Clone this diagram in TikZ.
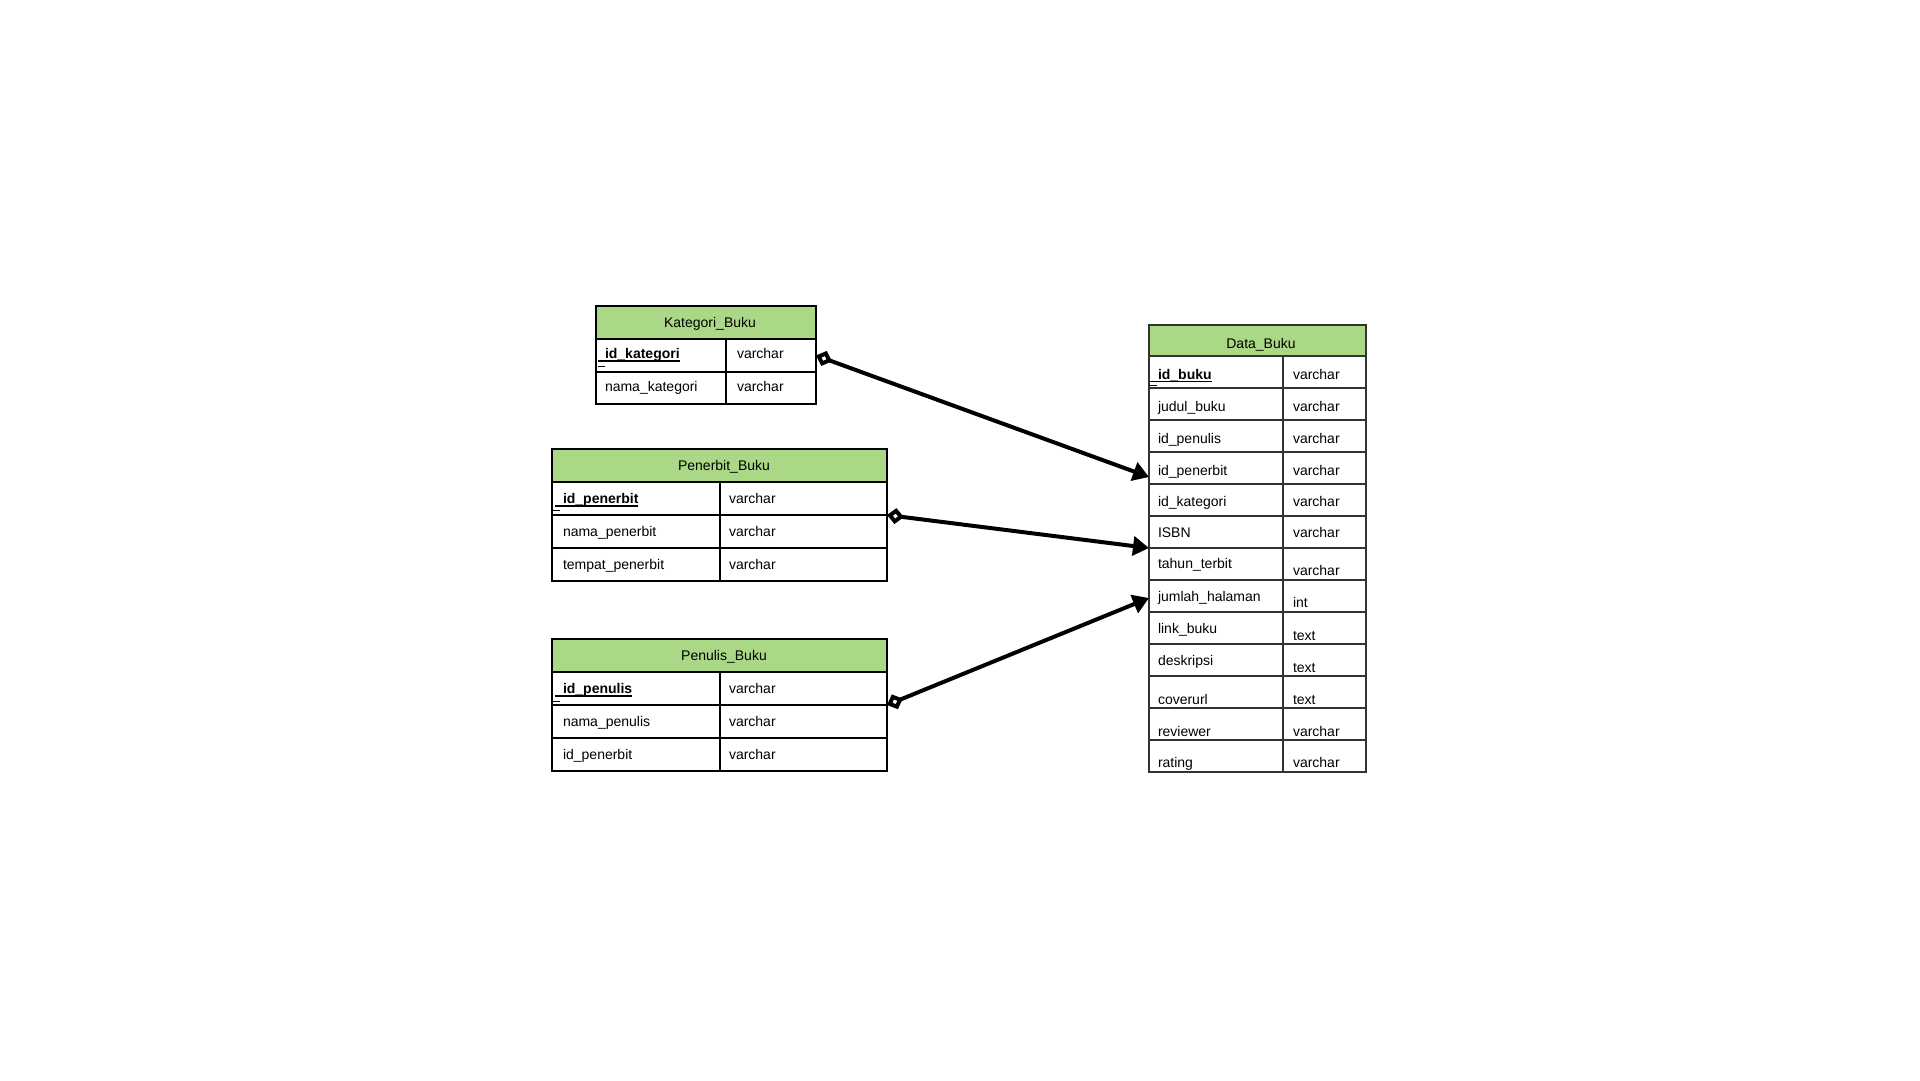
\documentclass[tikz,border=0pt]{standalone}
\usepackage{fontspec}
\setmainfont{Liberation Sans}
\usetikzlibrary{arrows.meta}
\definecolor{hdrgreen}{RGB}{170,216,134}
\begin{document}
\begin{tikzpicture}[x=1bp,y=-1bp,
  every node/.style={inner sep=0pt, outer sep=0pt},
  cellk/.style 2 args={draw=black, line width=2bp, minimum width=#1, minimum height=#2, anchor=north west},
  celld/.style 2 args={draw=black!80, line width=1.3bp, minimum width=#1, minimum height=#2, anchor=north west},
  lt/.style={anchor=base west, font=\fontsize{14bp}{17bp}\selectfont},
  kt/.style={anchor=base west, font=\fontsize{14bp}{17bp}\selectfont\bfseries},
  ht/.style={anchor=base, font=\fontsize{14bp}{17bp}\selectfont},
  ul/.style={line width=1.4bp},
  dsh/.style={line width=1bp},
  rel/.style={line width=4bp, {Diamond[fill=white,length=17bp,width=16bp]}-{Triangle[length=16bp,width=19bp]}}
]
\fill[white] (0,0) rectangle (1920,1080);
\useasboundingbox (0,0) rectangle (1920,1080);

% ---------- Kategori_Buku ----------
\node[cellk={220bp}{33bp}, fill=hdrgreen] (kh) at (596,306) {};
\node[ht] (kht) at (710,327) {Kategori\_Buku};
\node[cellk={130bp}{33bp}] (k1l) at (596,339) {};
\node[cellk={90bp}{33bp}] (k1r) at (726,339) {};
\node[cellk={130bp}{32bp}] (k2l) at (596,372) {};
\node[cellk={90bp}{32bp}] (k2r) at (726,372) {};
\node[kt] (k1t) at (605,358.5) {id\_kategori};
\draw[ul] ([xshift=-7bp,yshift=-2.5bp]k1t.base west) -- ([yshift=-2.5bp]k1t.base east);
\draw[dsh] (598,366) -- (605,366);
\node[lt] (k1y) at (737,358.5) {varchar};
\node[lt] (k2t) at (605,391.5) {nama\_kategori};
\node[lt] (k2y) at (737,391.5) {varchar};

% ---------- Penerbit_Buku ----------
\node[cellk={335bp}{33bp}, fill=hdrgreen] (ph) at (552,449) {};
\node[ht] (pht) at (724,470.5) {Penerbit\_Buku};
\node[cellk={168bp}{33bp}] (p1l) at (552,482) {};
\node[cellk={167bp}{33bp}] (p1r) at (720,482) {};
\node[cellk={168bp}{33bp}] (p2l) at (552,515) {};
\node[cellk={167bp}{33bp}] (p2r) at (720,515) {};
\node[cellk={168bp}{33bp}] (p3l) at (552,548) {};
\node[cellk={167bp}{33bp}] (p3r) at (720,548) {};
\node[kt] (p1t) at (563,503.5) {id\_penerbit};
\draw[ul] ([xshift=-8bp,yshift=-2.5bp]p1t.base west) -- ([yshift=-2.5bp]p1t.base east);
\draw[dsh] (553,510) -- (560,510);
\node[lt] (p1y) at (729,503.5) {varchar};
\node[lt] (p2t) at (563,536.5) {nama\_penerbit};
\node[lt] (p2y) at (729,536.5) {varchar};
\node[lt] (p3t) at (563,569.5) {tempat\_penerbit};
\node[lt] (p3y) at (729,569.5) {varchar};

% ---------- Penulis_Buku ----------
\node[cellk={335bp}{33bp}, fill=hdrgreen] (nh) at (552,639) {};
\node[ht] (nht) at (724,660.5) {Penulis\_Buku};
\node[cellk={168bp}{33bp}] (n1l) at (552,672) {};
\node[cellk={167bp}{33bp}] (n1r) at (720,672) {};
\node[cellk={168bp}{33bp}] (n2l) at (552,705) {};
\node[cellk={167bp}{33bp}] (n2r) at (720,705) {};
\node[cellk={168bp}{33bp}] (n3l) at (552,738) {};
\node[cellk={167bp}{33bp}] (n3r) at (720,738) {};
\node[kt] (n1t) at (563,693.5) {id\_penulis};
\draw[ul] ([xshift=-8bp,yshift=-2.5bp]n1t.base west) -- ([yshift=-2.5bp]n1t.base east);
\draw[dsh] (553,701) -- (560,701);
\node[lt] (n1y) at (729,693.5) {varchar};
\node[lt] (n2t) at (563,726.5) {nama\_penulis};
\node[lt] (n2y) at (729,726.5) {varchar};
\node[lt] (n3t) at (563,759.5) {id\_penerbit};
\node[lt] (n3y) at (729,759.5) {varchar};

% ---------- Data_Buku ----------
\node[celld={217bp}{31bp}, fill=hdrgreen] (dh) at (1149,325) {};
\node[ht] (dht) at (1261,348) {Data\_Buku};
\node[celld={134bp}{32bp}] (dl0) at (1149,356) {};
\node[celld={83bp}{32bp}] (dr0) at (1283,356) {};
\node[kt] (dt0) at (1158,379) {id\_buku};
\draw[ul] ([xshift=-8bp,yshift=-2.5bp]dt0.base west) -- ([yshift=-2.5bp]dt0.base east);
\draw[dsh] (1149,385) -- (1157,385);
\node[lt] (dy0) at (1293,379) {varchar};
\foreach \nm/\ty/\a/\b [count=\i from 1] in {
  judul\_buku/varchar/7.5/7.5,
  id\_penulis/varchar/7/7,
  id\_penerbit/varchar/7/7,
  id\_kategori/varchar/6.5/6.5,
  ISBN/varchar/5/5,
  tahun\_terbit/varchar/4.5/11.5,
  jumlah\_halaman/int/5/11,
  link\_buku/text/5/12,
  deskripsi/text/5/12,
  coverurl/text/12/12,
  reviewer/varchar/12.5/12.5,
  rating/varchar/11/11}{
  \pgfmathsetmacro\yt{356+32*\i}
  \node[celld={134bp}{32bp}] (dl\i) at (1149,\yt) {};
  \node[celld={83bp}{32bp}] (dr\i) at (1283,\yt) {};
  \node[lt] (dt\i) at (1158,{\yt+16+\a}) {\nm};
  \node[lt] (dy\i) at (1293,{\yt+16+\b}) {\ty};
}

% ---------- relations ----------
\coordinate (e1) at (1149,477);
\coordinate (e2) at (1149,548);
\coordinate (e3) at (1149,598);
\draw[rel] (k1r.east) -- (e1);
\draw[rel] (p1r.south east) -- (e2);
\draw[rel] (n1r.south east) -- (e3);
\end{tikzpicture}
\end{document}
